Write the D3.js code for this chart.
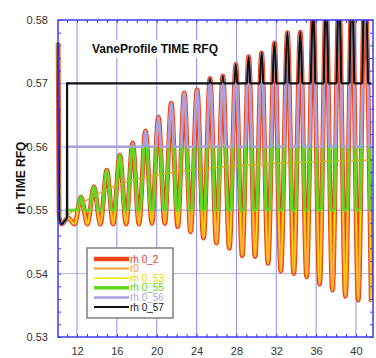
<!DOCTYPE html>
<html><head><meta charset="utf-8">
<script src="https://cdn.jsdelivr.net/npm/d3@7"></script>
<style>html,body{margin:0;padding:0;background:#fff;}svg{display:block;font-family:"Liberation Sans",Arial,sans-serif;}</style>
</head><body><svg id="c" width="376" height="358"></svg>
<script>
// ---- data ----
const xTicks = [12, 16, 20, 24, 28, 32, 36, 40];
const yTicks = [0.53, 0.54, 0.55, 0.56, 0.57, 0.58];
// vane profile (rh 0_2 / rh 0_53): extrema
const profileX = [10.10, 10.20, 10.45, 11.10,
  11.75, 12.40, 13.04, 13.70, 14.34, 14.99, 15.63, 16.29, 16.93, 17.58,
  18.22, 18.87, 19.52, 20.17, 20.81, 21.46, 22.11, 22.76, 23.40, 24.05,
  24.70, 25.35, 25.99, 26.64, 27.29, 27.94, 28.58, 29.23, 29.87, 30.53,
  31.17, 31.82, 32.46, 33.12, 33.76, 34.41, 35.05, 35.70, 36.35, 37.00,
  37.64, 38.29, 38.94, 39.59, 40.23, 40.88, 41.53];
const profileY = [0.5764, 0.5490, 0.5478, 0.5488,
  0.5478, 0.5521, 0.5478, 0.5537, 0.5478, 0.5563, 0.5478, 0.5587, 0.5478, 0.5606,
  0.5478, 0.5625, 0.5479, 0.5647, 0.5479, 0.5669, 0.5474, 0.5685, 0.5466, 0.5690,
  0.5456, 0.5708, 0.5448, 0.5712, 0.5440, 0.5730, 0.5428, 0.5742, 0.5427, 0.5748,
  0.5416, 0.5764, 0.5404, 0.5780, 0.5400, 0.5781, 0.5395, 0.5815, 0.5383, 0.5830,
  0.5374, 0.5840, 0.5364, 0.5850, 0.5358, 0.5860, 0.5355];
// r0 (mean aperture)
const r0X = [11.0, 12.0, 14.0, 17.0, 20.0, 25.0, 30.0, 35.0, 41.7];
const r0Y = [0.5490, 0.5505, 0.5525, 0.5545, 0.5555, 0.5566, 0.5572, 0.5576, 0.5579];
// clipped profiles
const levelNames = ["rh 0_55", "rh 0_56", "rh 0_57"];
const levelValues = [0.55, 0.56, 0.57];
const levelBandTop = [0.5605, 0.60, 0.60];
const levelStartX = [11.0, 11.0, 11.0];
const levelStartY = [0.5487, 0.5487, 0.5487];
const legendNames = ["rh 0_2", "r0", "rh 0_53", "rh 0_55", "rh 0_56", "rh 0_57"];

// ---- styles ----
const C = {red:"#ee4420", orange:"#ff9a30", yellow:"#f1e400", green:"#62d820", lav:"#ab9ee2", black:"#111",
  frame:"#3a3af0", grid:"#8c8cf0", hgrid:"#b4b0e0"};
const legendColors = [C.red, C.orange, C.yellow, C.green, C.lav, C.black];
const legendTextColors = ["#e33a1c", "#ff9030", "#e6dc00", "#5fd41c", "#b2a8e0", "#111"];
const legendWidths = [4.5, 2, 1.5, 3.5, 2.5, 2.2];

const L = 58, R = 373, T = 20, B = 337;
const svg = d3.select("#c");
const x = d3.scaleLinear().domain([10.09, 41.71]).range([L, R]);
const y = d3.scaleLinear().domain([0.53, 0.58]).range([B, T]);
const defs = svg.append("defs");

const prof = profileX.map((v, i) => [v, profileY[i]]);
const r0 = r0X.map((v, i) => [v, r0Y[i]]);
const line = d3.line().x(d => x(d[0])).y(d => y(d[1])).curve(d3.curveMonotoneX);
const above = d3.area().x(d => x(d[0])).y0(T - 10).y1(d => y(d[1])).curve(d3.curveMonotoneX);

// grid
const g = svg.append("g");
g.selectAll(".vg").data(xTicks).join("line")
  .attr("x1", d => x(d)).attr("x2", d => x(d)).attr("y1", T).attr("y2", B)
  .attr("stroke", C.grid).attr("stroke-width", 1);
g.selectAll(".hg").data(yTicks.slice(1, -1)).join("line")
  .attr("x1", L).attr("x2", R).attr("y1", d => y(d)).attr("y2", d => y(d))
  .attr("stroke", d => d === 0.55 ? C.grid : C.hgrid).attr("stroke-width", 1);

// clip paths
defs.append("clipPath").attr("id", "plot").append("rect")
  .attr("x", 50).attr("y", T).attr("width", R - 50).attr("height", B - T);
defs.append("clipPath").attr("id", "over").append("path").attr("d", above(prof));
levelValues.forEach((lv, i) => {
  const cp = defs.append("clipPath").attr("id", "lv" + i);
  cp.append("rect").attr("x", 40).attr("y", 0).attr("width", x(levelStartX[i]) - 40).attr("height", 400);
  const top = Math.max(0, y(levelBandTop[i]));
  cp.append("rect").attr("x", x(levelStartX[i])).attr("y", top)
    .attr("width", R - x(levelStartX[i]) + 5).attr("height", y(lv) - top);
});

const plot = svg.append("g").attr("clip-path", "url(#plot)");
// rh 0_2
plot.append("path").attr("d", line(prof)).attr("fill", "none")
  .attr("stroke", C.red).attr("stroke-width", 4.8).attr("stroke-linejoin", "round");
// r0
plot.append("path").attr("d", line(r0)).attr("fill", "none")
  .attr("stroke", C.orange).attr("stroke-width", 1.5);
// rh 0_53
plot.append("path").attr("d", line(prof)).attr("fill", "none")
  .attr("stroke", C.orange).attr("stroke-width", 2.6);
plot.append("path").attr("d", line(prof)).attr("fill", "none")
  .attr("stroke", C.yellow).attr("stroke-width", 1.3);
// level-clipped series
const lvColors = [C.green, C.lav, C.black];
const lvWidths = [3, 2.6, 2.2];
levelValues.forEach((lv, i) => {
  const gg = plot.append("g");
  gg.append("path").attr("d", line(prof)).attr("fill", "none")
    .attr("clip-path", `url(#lv${i})`)
    .attr("stroke", lvColors[i]).attr("stroke-width", lvWidths[i]).attr("stroke-linejoin", "round");
  gg.append("line").attr("x1", x(levelStartX[i])).attr("x2", x(levelStartX[i]))
    .attr("y1", y(levelStartY[i])).attr("y2", y(lv) - lvWidths[i] / 2)
    .attr("stroke", lvColors[i]).attr("stroke-width", lvWidths[i]);
  gg.append("g").attr("clip-path", "url(#over)")
    .append("line").attr("x1", x(levelStartX[i])).attr("x2", R)
    .attr("y1", y(lv)).attr("y2", y(lv))
    .attr("stroke", lvColors[i]).attr("stroke-width", lvWidths[i]);
});

// frame
svg.append("rect").attr("x", L).attr("y", T).attr("width", R - L).attr("height", B - T)
  .attr("fill", "none").attr("stroke", C.frame).attr("stroke-width", 1.5);

// minor ticks
const xMinor = d3.range(11, 42, 1);
const yMinor = d3.range(0, 26).map(k => 0.53 + k * 0.002);
function noDomain(sel){ sel.select(".domain").remove(); sel.selectAll(".tick line").attr("stroke", C.frame); }
svg.append("g").attr("transform", `translate(0,${B})`).call(d3.axisBottom(x).tickValues(xMinor).tickSize(-3).tickFormat("")).call(noDomain);
svg.append("g").attr("transform", `translate(0,${T})`).call(d3.axisTop(x).tickValues(xMinor).tickSize(-3).tickFormat("")).call(noDomain);
svg.append("g").attr("transform", `translate(${L},0)`).call(d3.axisLeft(y).tickValues(yMinor).tickSize(-3).tickFormat("")).call(noDomain);
svg.append("g").attr("transform", `translate(${R},0)`).call(d3.axisRight(y).tickValues(yMinor).tickSize(-3).tickFormat("")).call(noDomain);

// labels
const xa = svg.append("g").attr("transform", `translate(0,${B})`)
  .call(d3.axisBottom(x).tickValues(xTicks).tickSize(0).tickPadding(10).tickFormat(d3.format("d")));
xa.select(".domain").remove();
xa.selectAll("text").attr("font-size", 11).attr("fill", "#333").attr("font-family", "Liberation Sans, Arial");
const ya = svg.append("g").attr("transform", `translate(${L},0)`)
  .call(d3.axisLeft(y).tickValues(yTicks).tickSize(0).tickPadding(10).tickFormat(d3.format(".2f")));
ya.select(".domain").remove();
ya.selectAll("text").attr("font-size", 11).attr("fill", "#333").attr("font-family", "Liberation Sans, Arial");

// y title
svg.append("text").attr("transform", "translate(25,178) rotate(-90)")
  .attr("text-anchor", "middle").attr("font-size", 12).attr("font-weight", "bold").attr("fill", "#111")
  .text("rh TIME RFQ");

// chart title
svg.append("rect").attr("x", 88).attr("y", 40).attr("width", 140).attr("height", 18).attr("fill", "#fff");
svg.append("text").attr("x", 92).attr("y", 53).attr("font-size", 12).attr("font-weight", "bold").attr("fill", "#111")
  .text("VaneProfile TIME RFQ");

// legend
const lg = svg.append("g");
lg.append("rect").attr("x", 87).attr("y", 248).attr("width", 86).attr("height", 70)
  .attr("fill", "#fff").attr("stroke", "#808080").attr("stroke-width", 1.5);
legendNames.forEach((n, i) => {
  const yy = 259 + i * 9.6;
  lg.append("line").attr("x1", 94).attr("x2", 129).attr("y1", yy).attr("y2", yy)
    .attr("stroke", legendColors[i]).attr("stroke-width", legendWidths[i]);
  lg.append("text").attr("x", 130).attr("y", yy + 3.5).attr("font-size", 10)
    .attr("fill", legendTextColors[i]).text(n);
});
</script></body></html>
